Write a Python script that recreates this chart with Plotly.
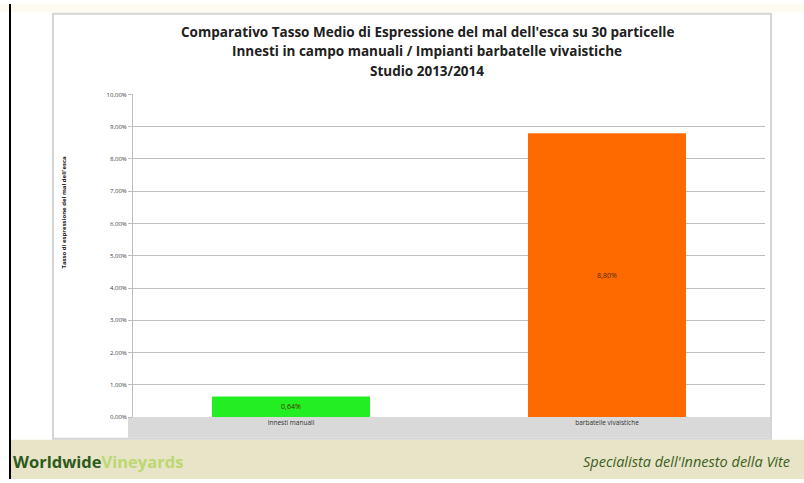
import plotly.graph_objects as go

categories = ["Innesti manuali", "barbatelle vivaistiche"]
values = [0.0064, 0.088]
bar_colors = ["#22ee22", "#ff6a00"]
title_lines = [
    "Comparativo Tasso Medio di Espressione del mal dell'esca su 30 particelle",
    "Innesti in campo manuali / Impianti barbatelle vivaistiche",
    "Studio 2013/2014",
]
y_title = "Tasso di espressione del mal dell'esca"

W, H = 804, 483
def px(x): return x / W
def py(y): return 1 - y / H

fig = go.Figure()
fig.add_trace(go.Bar(
    x=categories, y=values,
    marker=dict(color=bar_colors, line=dict(width=0)),
    width=0.5,
    text=[f"{v*100:.2f}%".replace(".", ",") for v in values],
    textposition="inside", insidetextanchor="middle",
    textfont=dict(size=7, color="#4a2a00", family="Open Sans"),
    hoverinfo="skip",
))

shapes = [
    dict(type="rect", xref="paper", yref="paper", x0=0, x1=1, y0=py(8), y1=1,
         fillcolor="#fdfbf0", line=dict(width=0), layer="below"),
    dict(type="rect", xref="paper", yref="paper", x0=px(10), x1=1, y0=0, y1=py(443),
         fillcolor="#e7e4c7", line=dict(width=0), layer="below"),
    dict(type="rect", xref="paper", yref="paper", x0=px(53), x1=px(771), y0=py(442), y1=py(10),
         fillcolor="white", line=dict(color="#d4d4d4", width=2), layer="below"),
    dict(type="rect", xref="paper", yref="paper", x0=px(128), x1=px(770), y0=py(441), y1=py(420),
         fillcolor="#d9d9d9", line=dict(width=0), layer="below"),
    dict(type="line", xref="paper", yref="paper", x0=px(10), x1=px(10), y0=0, y1=1,
         line=dict(color="black", width=2)),
]

annotations = []
for i, t in enumerate(title_lines):
    annotations.append(dict(text=f"<b>{t}</b>", xref="paper", yref="paper",
                            x=px(427), y=py(28 + i * 20), showarrow=False,
                            font=dict(size=13.5, family="Open Sans", color="#202020"),
                            xanchor="center", yanchor="middle"))
annotations.append(dict(text=f"<b>{y_title}</b>", xref="paper", yref="paper",
                        x=px(64), y=py(212), showarrow=False, textangle=-90,
                        font=dict(size=6, family="Open Sans", color="#202020"),
                        xanchor="center", yanchor="middle"))
annotations.append(dict(text="<b><span style='color:#2e5a1c'>Worldwide</span><span style='color:#bcd870'>Vineyards</span></b>",
                        xref="paper", yref="paper", x=px(11), y=py(465), showarrow=False,
                        font=dict(size=16.5, family="Open Sans"), xanchor="left", yanchor="middle"))
annotations.append(dict(text="<i>Specialista dell'Innesto della Vite</i>",
                        xref="paper", yref="paper", x=px(792), y=py(465), showarrow=False,
                        font=dict(size=14.5, family="Open Sans", color="#3d5f22"),
                        xanchor="right", yanchor="middle"))

fig.update_layout(
    width=W, height=H,
    margin=dict(l=0, r=0, t=0, b=0),
    paper_bgcolor="white", plot_bgcolor="rgba(0,0,0,0)",
    separators=",.",
    showlegend=False,
    shapes=shapes, annotations=annotations,
    xaxis=dict(domain=[px(133), px(765)], showgrid=False, showline=False, zeroline=False,
               ticks="", tickfont=dict(size=6.5, family="Open Sans", color="#303030"),
               ticklabelstandoff=0),
    yaxis=dict(domain=[py(420), py(92)], range=[0, 0.10], dtick=0.01, tickformat=".2%",
               showgrid=True, gridcolor="#bdbdbd", gridwidth=1, zeroline=False,
               showline=True, linecolor="#bdbdbd", linewidth=1,
               ticks="outside", ticklen=4, tickcolor="#bdbdbd",
               tickfont=dict(size=6, family="Open Sans", color="#404040")),
    bargap=0.5,
)

fig.write_html("out.html")
